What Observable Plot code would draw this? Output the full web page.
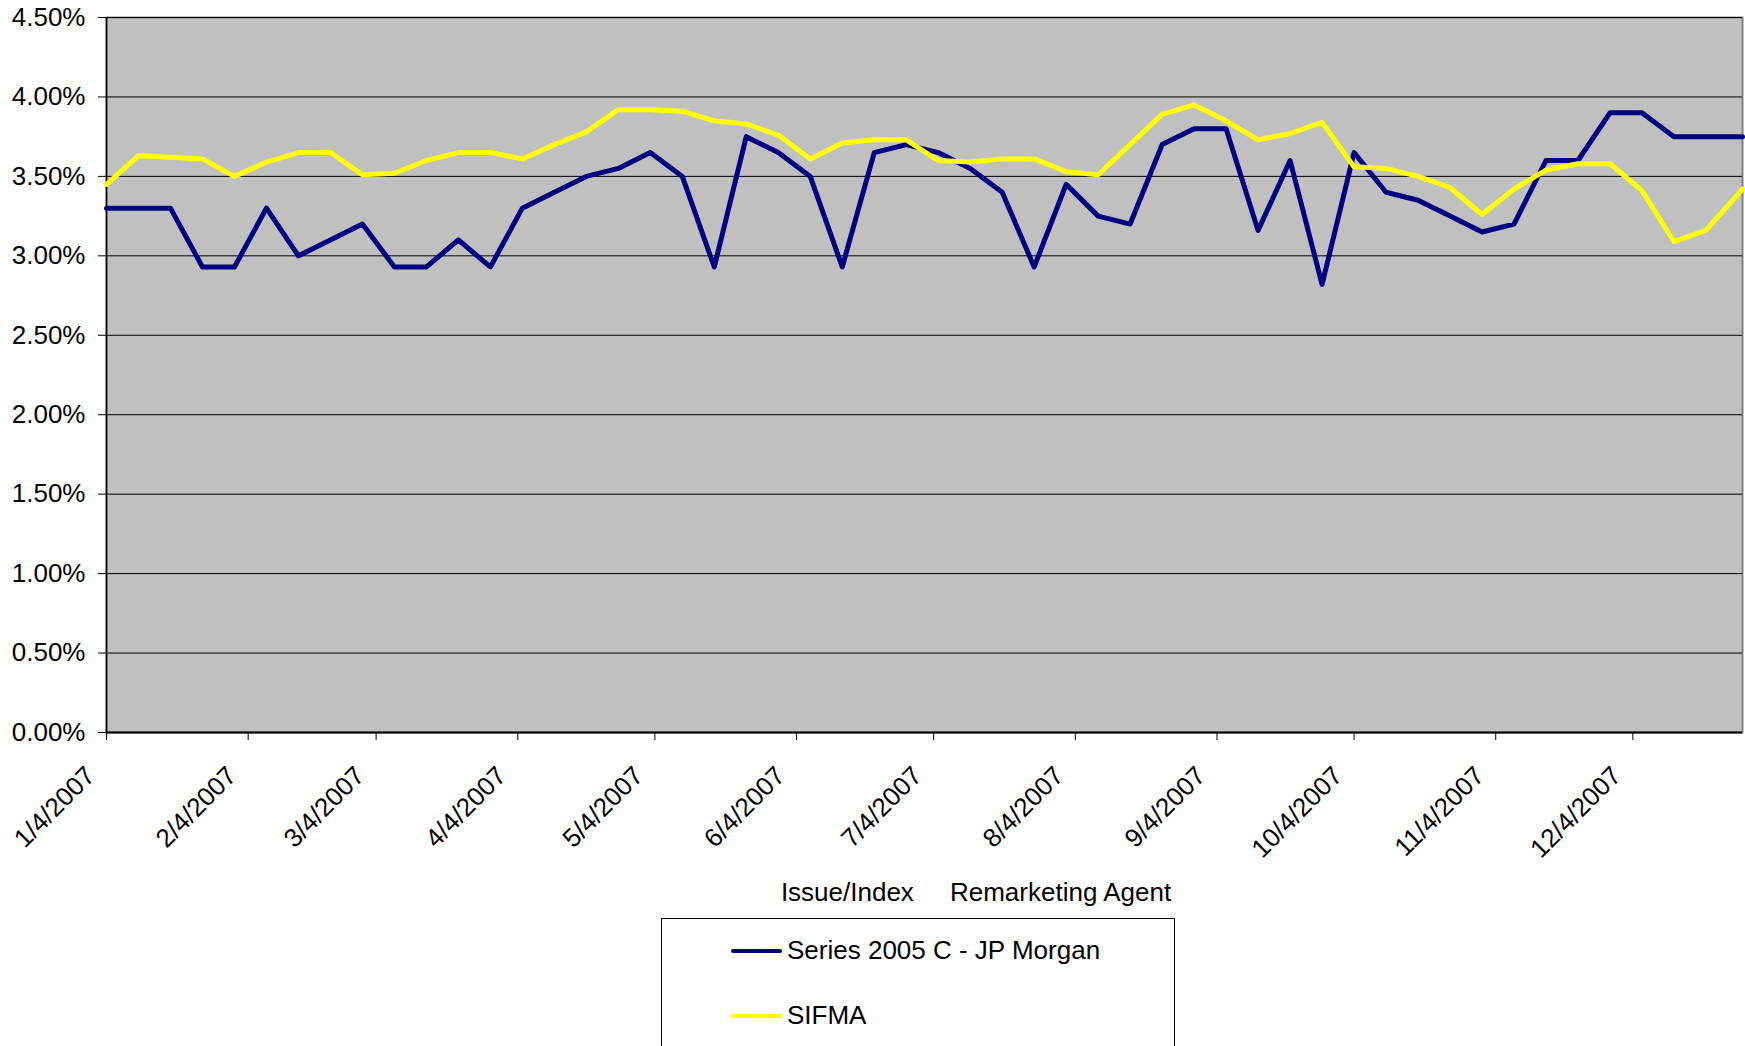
<!DOCTYPE html>
<html><head><meta charset="utf-8">
<script src="https://cdn.jsdelivr.net/npm/d3@7"></script>
<script src="https://cdn.jsdelivr.net/npm/@observablehq/plot@0.6"></script>
<style>
html,body{margin:0;padding:0;background:#fff;}
body{position:relative;width:1745px;height:1046px;overflow:hidden;font-family:"Liberation Sans",Arial,sans-serif;color:#000;}
#chart{position:absolute;left:0;top:0;}
#xtitle{position:absolute;left:576px;width:800px;top:877px;text-align:center;font-size:26px;line-height:30px;white-space:pre;}
#legend{position:absolute;left:661px;top:918px;width:514px;height:160px;border:1px solid #000;box-sizing:border-box;background:#fff;}
.item{position:absolute;left:69px;height:30px;font-size:26px;line-height:30px;white-space:nowrap;}
.swatch{display:inline-block;width:51px;height:4px;vertical-align:middle;margin-right:5px;position:relative;top:-1px;border-radius:2px;}
</style></head><body>
<div id="chart"></div>
<div id="xtitle"></div>
<div id="legend"></div>
<script>
const dates = ["2007-01-04","2007-01-11","2007-01-18","2007-01-25","2007-02-01","2007-02-08","2007-02-15","2007-02-22",
  "2007-03-01","2007-03-08","2007-03-15","2007-03-22","2007-03-29","2007-04-05","2007-04-12","2007-04-19","2007-04-26",
  "2007-05-03","2007-05-10","2007-05-17","2007-05-24","2007-05-31","2007-06-07","2007-06-14","2007-06-21","2007-06-28",
  "2007-07-05","2007-07-12","2007-07-19","2007-07-26","2007-08-02","2007-08-09","2007-08-16","2007-08-23","2007-08-30",
  "2007-09-06","2007-09-13","2007-09-20","2007-09-27","2007-10-04","2007-10-11","2007-10-18","2007-10-25",
  "2007-11-01","2007-11-08","2007-11-15","2007-11-22","2007-11-29","2007-12-06","2007-12-13","2007-12-20","2007-12-28"];
const jpMorgan = [3.30,3.30,3.30,2.93,2.93,3.30,3.00,3.10,3.20,2.93,2.93,3.10,2.93,3.30,3.40,3.50,3.55,3.65,3.50,2.93,
  3.75,3.65,3.50,2.93,3.65,3.70,3.65,3.55,3.40,2.93,3.45,3.25,3.20,3.70,3.80,3.80,3.16,3.60,2.82,3.65,
  3.40,3.35,3.25,3.15,3.20,3.60,3.60,3.90,3.90,3.75,3.75,3.75];
const sifma = [3.45,3.63,3.62,3.61,3.50,3.59,3.65,3.65,3.51,3.52,3.60,3.65,3.65,3.61,3.70,3.78,3.92,3.92,3.91,3.85,
  3.83,3.76,3.61,3.71,3.73,3.73,3.60,3.59,3.61,3.61,3.53,3.51,3.70,3.89,3.95,3.85,3.73,3.77,3.84,3.56,
  3.55,3.50,3.43,3.26,3.42,3.54,3.58,3.58,3.41,3.09,3.16,3.42];
const seriesNames = ["Series 2005 C - JP Morgan","SIFMA"];
const seriesColors = ["#000080","#FFFF00"];
const yTicks = [0,0.5,1.0,1.5,2.0,2.5,3.0,3.5,4.0,4.5];
const xTicks = ["2007-01-04","2007-02-04","2007-03-04","2007-04-04","2007-05-04","2007-06-04","2007-07-04",
  "2007-08-04","2007-09-04","2007-10-04","2007-11-04","2007-12-04"];
const xTitle = "Issue/Index     Remarketing Agent";

const parse = d3.utcParse("%Y-%m-%d");
const fmtDate = d3.utcFormat("%-m/%-d/%Y");
const fmtPct = d3.format(".2%");
const rows = [];
dates.forEach((d,i)=>{
  rows.push({date:parse(d), value:jpMorgan[i]/100, series:seriesNames[0]});
});
dates.forEach((d,i)=>{
  rows.push({date:parse(d), value:sifma[i]/100, series:seriesNames[1]});
});
const yT = yTicks.map(v=>v/100);
const xT = xTicks.map(parse);
const x0 = parse(dates[0]), x1 = parse(dates[dates.length-1]);

const chart = Plot.plot({
  width:1745, height:915,
  marginLeft:106, marginRight:3, marginTop:17, marginBottom:183,
  style:{fontFamily:"'Liberation Sans', Arial, sans-serif", fontSize:"26px", background:"#fff", color:"#000", overflow:"visible"},
  x:{type:"utc", domain:[x0,x1], label:null},
  y:{domain:[0,0.045], label:null},
  color:{domain:seriesNames, range:seriesColors},
  marks:[
    Plot.frame({fill:"#c0c0c0", stroke:"#808080", strokeWidth:2}),
    Plot.gridY(yT, {stroke:"#000", strokeOpacity:1, strokeWidth:1}),
    Plot.ruleX([x0], {stroke:"#000", strokeWidth:1.5}),
    Plot.ruleY([0], {stroke:"#000", strokeWidth:2}),
    Plot.lineY(rows, {x:"date", y:"value", z:"series", stroke:"series", strokeWidth:5, strokeLinejoin:"round"}),
    Plot.axisY({ticks:yT, tickFormat:fmtPct, tickSize:8, tickPadding:13, fontSize:26, label:null, stroke:"#000"}),
    Plot.axisX({ticks:xT, tickSize:8, fill:"none", label:null, stroke:"#000"}),
    Plot.axisX({ticks:xT, tickSize:0, tickFormat:fmtDate, tickRotate:-45, tickPadding:0, fontSize:26, label:null, dx:-16, dy:39})
  ]
});
document.getElementById("chart").appendChild(chart);
document.getElementById("xtitle").textContent = xTitle;
const lg = document.getElementById("legend");
seriesNames.forEach((n,i)=>{
  const it = document.createElement("div");
  it.className = "item";
  it.style.top = (i===0 ? 16 : 81) + "px";
  const sw = document.createElement("span");
  sw.className = "swatch";
  sw.style.background = seriesColors[i];
  it.appendChild(sw);
  it.appendChild(document.createTextNode(n));
  lg.appendChild(it);
});
</script>
</body></html>
